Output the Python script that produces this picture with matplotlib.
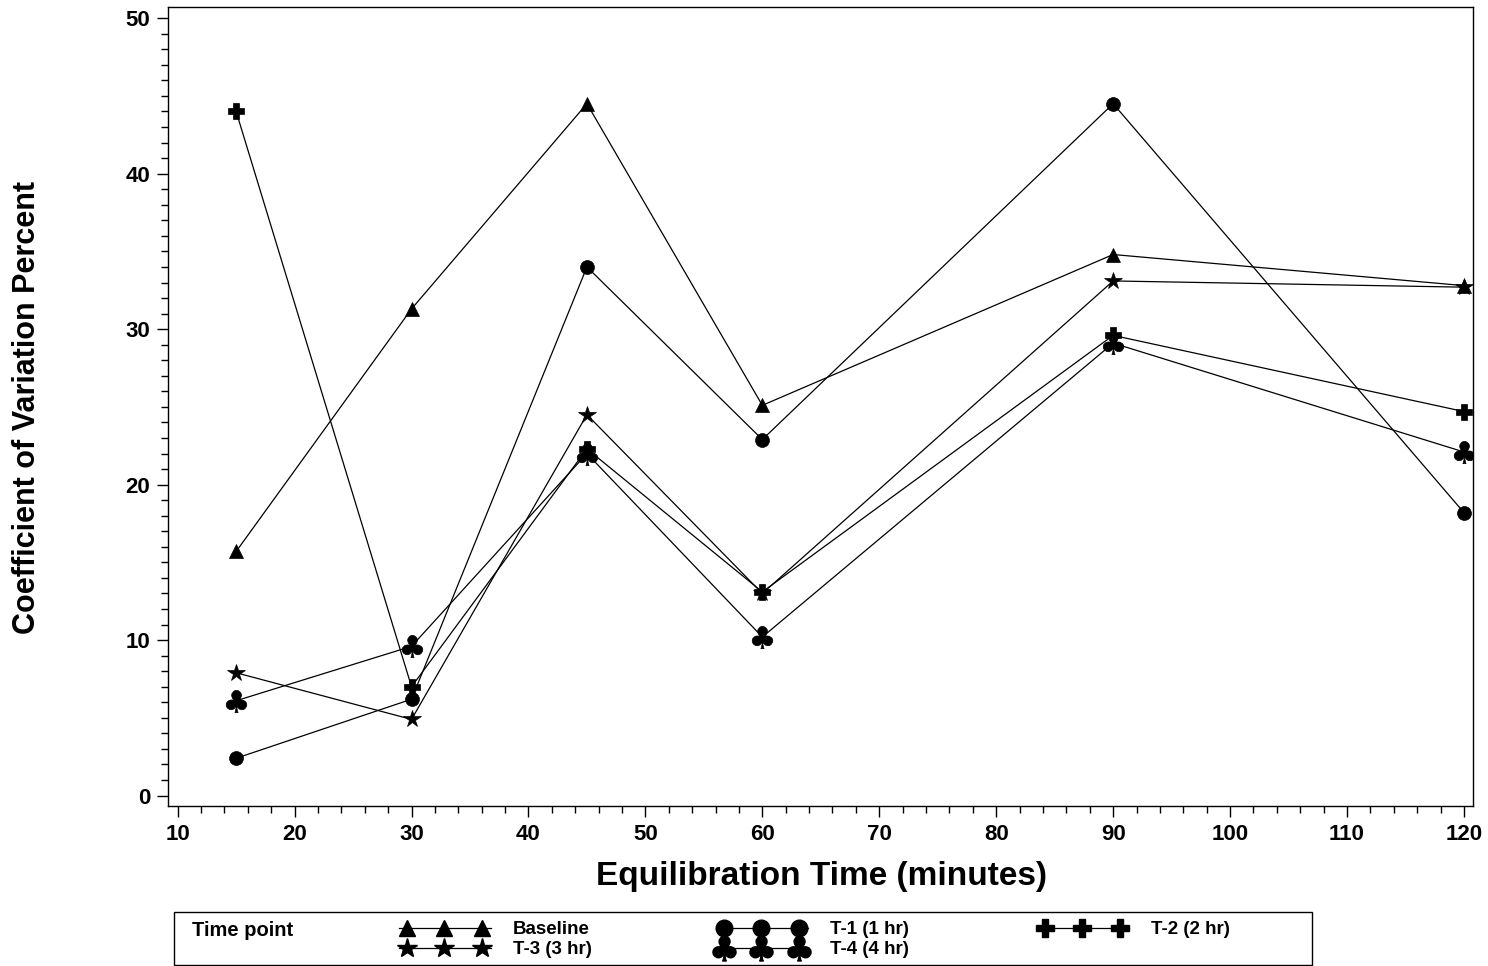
import matplotlib
matplotlib.use("Agg")
import matplotlib.pyplot as plt
from matplotlib.ticker import MultipleLocator
from matplotlib.patches import Rectangle

plt.rcParams['font.family'] = ['Liberation Sans', 'DejaVu Sans']
plt.rcParams['font.weight'] = 'bold'

# Equilibration times (minutes)
minutes = [15, 30, 45, 60, 90, 120]

# Coefficient of variation (%) per time point
baseline = [15.7, 31.3, 44.5, 25.1, 34.8, 32.8]
t1_1hr = [2.4, 6.2, 34.0, 22.9, 44.5, 18.2]
t2_2hr = [44.0, 7.0, 22.3, 13.1, 29.6, 24.7]
t3_3hr = [7.9, 4.9, 24.5, 13.0, 33.1, 32.7]
t4_4hr = [6.1, 9.6, 22.0, 10.2, 29.1, 22.1]

series_labels = ["Baseline", "T-1 (1 hr)", "T-2 (2 hr)", "T-3 (3 hr)", "T-4 (4 hr)"]
x_ticks = [10, 20, 30, 40, 50, 60, 70, 80, 90, 100, 110, 120]
y_ticks = [0, 10, 20, 30, 40, 50]

CLUB = "$\u2663$"
styles = {
    "Baseline": dict(marker="^", ms=10),
    "T-1 (1 hr)": dict(marker="o", ms=10),
    "T-2 (2 hr)": dict(marker="P", ms=11),
    "T-3 (3 hr)": dict(marker="*", ms=13),
    "T-4 (4 hr)": dict(marker=CLUB, ms=16),
}

W, H = 1488, 966
fig = plt.figure(figsize=(W / 100, H / 100), dpi=100)


def px_box(x0, y0, x1, y1):
    return [x0 / W, 1 - y1 / H, (x1 - x0) / W, (y1 - y0) / H]


ax = fig.add_axes(px_box(168.3, 7.3, 1473.3, 805.7))

values = [baseline, t1_1hr, t2_2hr, t3_3hr, t4_4hr]
for label, vals in zip(series_labels, values):
    st = styles[label]
    ax.plot(minutes, vals, color="black", lw=0.9, marker=st["marker"],
            ms=st["ms"], mfc="black", mec="black", mew=0.5, label=label)

ax.set_xlim(9.2, 120.8)
ax.set_ylim(-0.65, 50.7)
ax.set_xticks(x_ticks)
ax.set_yticks(y_ticks)
ax.xaxis.set_minor_locator(MultipleLocator(2))
ax.yaxis.set_minor_locator(MultipleLocator(1))
ax.tick_params(which="major", direction="out", length=8, width=1.0,
               labelsize=16, pad=5, color="black")
ax.tick_params(which="minor", direction="out", length=5, width=1.0,
               color="black")
for lab in ax.get_xticklabels() + ax.get_yticklabels():
    lab.set_fontweight("bold")
for sp in ax.spines.values():
    sp.set_linewidth(1.0)

fig.text(822 / W, 1 - 877 / H, "Equilibration Time (minutes)",
         ha="center", va="center", fontsize=24, fontweight="bold")
fig.text(27 / W, 1 - 407 / H, "Coefficient of Variation Percent",
         ha="center", va="center", rotation=90, fontsize=22,
         fontweight="bold")

# Legend panel drawn in pixel coordinates
lg = fig.add_axes([0, 0, 1, 1])
lg.set_xlim(0, W)
lg.set_ylim(H, 0)
lg.axis("off")
lg.patch.set_visible(False)
lg.add_patch(Rectangle((174, 911.5), 1312 - 174, 53, fill=False,
                       edgecolor="black", lw=1.0))
lg.text(192, 930, "Time point", fontsize=14.5, fontweight="bold",
        ha="left", va="center")

legend_slots = {
    "Baseline": (407, 928),
    "T-3 (3 hr)": (407, 948),
    "T-1 (1 hr)": (724, 928),
    "T-4 (4 hr)": (724, 948),
    "T-2 (2 hr)": (1045, 928),
}
for label in series_labels:
    x0, yrow = legend_slots[label]
    st = styles[label]
    xs = [x0, x0 + 37, x0 + 75]
    lg.plot([x0 - 8, x0 + 84], [yrow, yrow], color="black", lw=0.9)
    lg.plot(xs, [yrow] * 3, ls="none", marker=st["marker"],
            ms=st["ms"] + 2, mfc="black", mec="black")
    lg.text(x0 + 106, yrow + 1, label, fontsize=13.5, fontweight="bold",
            ha="left", va="center")

fig.savefig("out.png", dpi=100)
